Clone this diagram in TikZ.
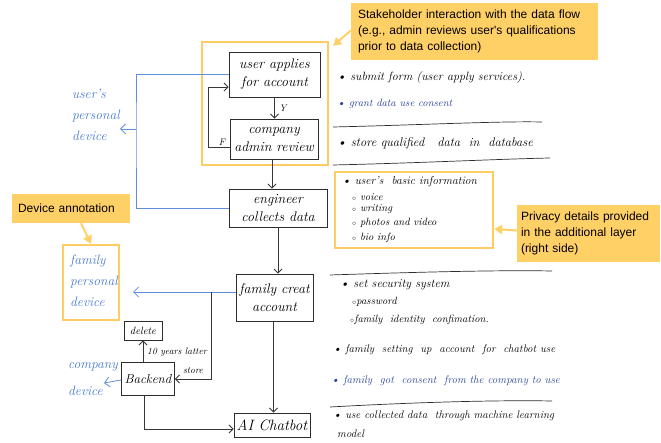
\documentclass[tikz,border=0pt]{standalone}
\usepackage{fontspec}
\newfontfamily\calloutfont{Liberation Sans}
\usetikzlibrary{arrows.meta}

\definecolor{callfill}{RGB}{255,208,102}
\definecolor{frameorange}{RGB}{253,205,100}
\definecolor{boxgray}{RGB}{45,45,45}
\definecolor{arrgray}{RGB}{55,55,55}
\definecolor{penblue}{RGB}{72,122,212}
\definecolor{lineblue}{RGB}{95,142,222}
\definecolor{inkblue}{RGB}{40,68,150}

\begin{document}
\begin{tikzpicture}[x=1pt,y=-1pt,
  box/.style={draw=boxgray, line width=0.9pt, inner sep=0pt, align=center,
    font=\itshape\fontsize{14}{18}\selectfont},
  frame/.style={draw=frameorange, line width=2.3pt, inner sep=0pt},
  arr/.style={draw=arrgray, line width=0.8pt, -{Straight Barb[length=4pt,width=8pt]}},
  blueline/.style={draw=lineblue, line width=0.8pt},
  bluearr/.style={draw=lineblue, line width=0.8pt, -{Straight Barb[length=5pt,width=10pt]}},
  callout/.style={fill=callfill, inner ysep=0pt, align=left,
    font=\calloutfont\fontsize{12}{16}\selectfont},
  callarr/.style={draw=callfill, line width=2pt, -{Triangle[length=8pt,width=9pt]}},
  note/.style={anchor=west, inner sep=0pt, font=\itshape\fontsize{12}{14}\selectfont},
  subnote/.style={anchor=west, inner sep=0pt, font=\itshape\fontsize{10.5}{12}\selectfont},
  pen/.style={text=penblue, inner sep=0pt, align=left, font=\itshape\fontsize{13.5}{21}\selectfont},
  sepline/.style={draw=boxgray, line width=0.7pt},
  tag/.style={inner sep=0pt, font=\itshape\fontsize{9.5}{11}\selectfont}
]
\useasboundingbox (0,0) rectangle (661,443);

% ---------- flow boxes ----------
\node[frame, minimum width=126, minimum height=123] (stakeframe) at (265,103.5) {};
\node[box, minimum width=91, minimum height=45] (apply) at (274.5,74.5) {user applies\\for account};
\node[box, minimum width=88, minimum height=40] (review) at (274,139) {company\\admin review};
\node[box, minimum width=98, minimum height=38] (engineer) at (278,208) {engineer\\collects data};
\node[box, minimum width=77, minimum height=47] (family) at (274.5,297.5) {family creat\\account};
\node[box, minimum width=76, minimum height=24, font=\itshape\fontsize{15}{17}\selectfont] (chatbot) at (272,425) {AI Chatbot};
\node[box, minimum width=53, minimum height=33, font=\itshape\fontsize{13}{17}\selectfont] (backend) at (148,379) {Backend};
\node[box, minimum width=38, minimum height=19, font=\itshape\fontsize{10.5}{12}\selectfont] (delete) at (143,330.5) {delete};

% ---------- devices ----------
\node[pen, anchor=north west] (userdev) at (72,89) {user's\\personal\\device};
\node[frame, minimum width=56, minimum height=75] (famdev) at (91,282.5) {};
\node[pen, anchor=north west] (famdevtext) at (70,255) {family\\personal\\device};
\node[pen, anchor=north west, font=\itshape\fontsize{13.5}{27}\selectfont] (compdev) at (68,362) {company\\device};

% ---------- main flow ----------
\draw[arr] (apply.south) -- (apply.south |- review.north);
\node[tag] (ylabel) at (283,108) {Y};
\draw[arr] ([yshift=-8]review.west) -- ++(-21,0) |- ([yshift=-12.5]apply.west);
\node[tag] (flabel) at (222,142) {F};
\draw[arr] ([xshift=-2]review.south) -- ([xshift=-2]review.south |- engineer.north);
\draw[arr] (engineer.south) -- (engineer.south |- family.north);
\draw[arr] ([xshift=-1]family.south) -- ([xshift=-1]family.south |- chatbot.north);

% personal device link
\coordinate (bus) at (136,129);
\coordinate (udtip) at (120,129);
\draw[blueline] (apply.west) -| (bus) |- (engineer.west);
\draw[bluearr] (bus) -- (udtip);

% family account links
\coordinate (sj) at (211,292);
\coordinate (fdtip) at (133,292);
\draw[bluearr] ([yshift=5.5]family.west) -- (fdtip);
\draw[arr] (sj) |- (backend.east);
\node[tag] (storelabel) at (193,371) {store};

% backend links
\draw[arr] (backend.north -| delete.south) -- (delete.south);
\node[tag, anchor=west] (retlabel) at (147,352) {10 years latter};
\draw[arr] ([xshift=-4]backend.south) |- ([yshift=-4]chatbot.west);
\coordinate (cdtip) at (104,383);
\draw[bluearr] ([yshift=-1]backend.west) -- (cdtip);

% ---------- notes on the right ----------
\node[note] (n1) at (337,78) {\textbullet\ submit form (user apply services).};
\node[note, text=inkblue, font=\itshape\fontsize{10.5}{12}\selectfont] (n2) at (337,104) {\textbullet\ grant data use consent};
\draw[sepline] (333,127) .. controls (420,125) and (500,121) .. (542,122);
\node[note, font=\itshape\fontsize{12.5}{14}\selectfont] (n3) at (337,143) {\textbullet\ store qualified \ \ data \ in \ database};
\draw[sepline] (333,165) .. controls (420,163) and (500,159) .. (550,158);

\node[frame, minimum width=158, minimum height=76] (infobox) at (414,210) {};
\node[note, font=\itshape\fontsize{11.5}{13}\selectfont] (i1) at (342,182) {\textbullet\ user's \ basic information};
\node[subnote] (i2) at (352,197) {$\scriptstyle\circ$ voice};
\node[subnote] (i3) at (352,209) {$\scriptstyle\circ$ writing};
\node[subnote] (i4) at (352,223) {$\scriptstyle\circ$ photos and video};
\node[subnote] (i5) at (352,238) {$\scriptstyle\circ$ bio info};

\draw[sepline] (330,275) .. controls (420,272) and (500,270) .. (552,271);
\node[note] (s1) at (340,285) {\textbullet\ set security system};
\node[subnote] (s2) at (352,302) {$\scriptstyle\circ$password};
\node[subnote] (s3) at (350,320) {$\scriptstyle\circ$family \ identity \ confimation.};
\node[note, font=\itshape\fontsize{11}{14}\selectfont] (s4) at (333,350) {\textbullet\ family \ setting \ up \ account \ for \ chatbot use};
\node[note, text=inkblue, font=\itshape\fontsize{11}{14}\selectfont] (s5) at (331,381) {\textbullet\ family \ got \ consent \ from the company to use};
\draw[sepline] (330,407) .. controls (420,402) and (500,400) .. (552,401);
\node[note, font=\itshape\fontsize{11}{14}\selectfont] (s6) at (333,416) {\textbullet\ use collected data \ through machine learning};
\node[note, font=\itshape\fontsize{11}{14}\selectfont] (s7) at (337,434) {model};

% ---------- callouts ----------
\node[callout, minimum width=247, minimum height=57, inner xsep=7pt, text width=233] (stakecall) at (474.5,31.5)
  {Stakeholder interaction with the data flow\\(e.g., admin reviews user's qualifications\\prior to data collection)};
\draw[callarr] ([yshift=1]stakecall.west) -- ([shift={(4,5)}]stakeframe.north east);

\node[callout, minimum width=118, minimum height=29, inner xsep=6pt, text width=106] (devcall) at (71,208.5)
  {Device annotation};
\draw[callarr] ([xshift=10]devcall.south) -- (famdev.north);

\node[callout, minimum width=143, minimum height=57, inner xsep=4pt, text width=135] (privcall) at (588.5,233.5)
  {Privacy details provided\\in the additional layer\\(right side)};
\draw[callarr] ([yshift=3]privcall.west) -- ([yshift=-19]infobox.east);
\end{tikzpicture}
\end{document}
